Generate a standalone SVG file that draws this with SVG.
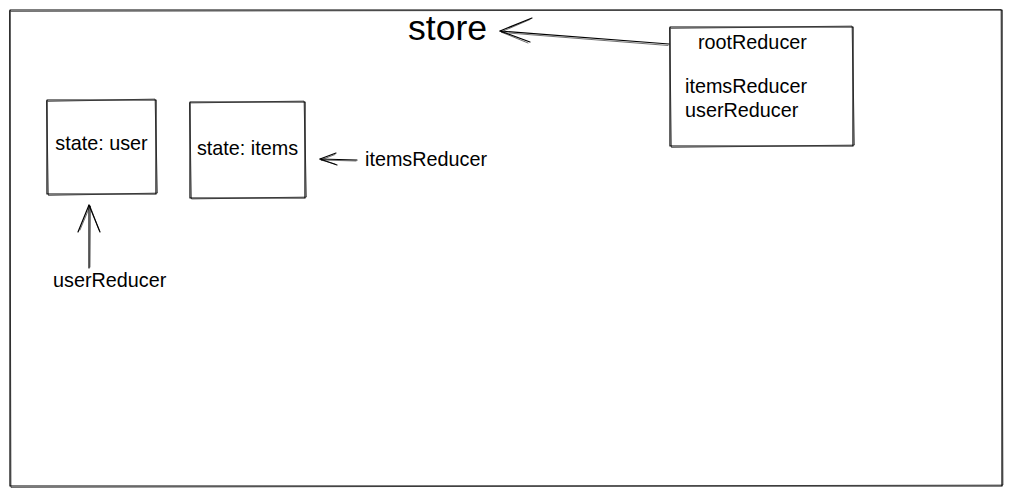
<svg xmlns="http://www.w3.org/2000/svg" width="1013" height="495" viewBox="0 0 1013 495">
<style>
.s{fill:none;stroke:#000;stroke-width:1.2;stroke-linecap:round;stroke-linejoin:round}
.s2{fill:none;stroke:#000;stroke-width:0.8;stroke-opacity:0.7;stroke-linecap:round}
.t{font-family:"Liberation Sans",Arial,sans-serif;fill:#000;font-size:19.8px}
</style>
<rect width="1013" height="495" fill="#fff"/>
<g id="store">
<path class="s" d="M10 10 L1002 10 L1002 486 L10 486 Z"/>
<path class="s2" d="M11 11.5 L1001 9.5 L1003 485 L11 487.5 L9.5 11"/>
<text class="t" x="408" y="40" style="font-size:35.6px">store</text>
</g>
<g id="rootReducer">
<path class="s" d="M670 27 L853 27 L853 146 L670 146 Z"/>
<path class="s2" d="M671 28.5 L852 26 L854.5 145 L671.5 147.5 L669.5 28"/>
<text class="t" x="698" y="48.5">rootReducer</text>
<text class="t" x="685" y="92.5">itemsReducer</text>
<text class="t" x="685" y="116.5">userReducer</text>
</g>
<g id="stateUser">
<path class="s" d="M47 100 L156 100 L156 194 L47 194 Z"/>
<path class="s2" d="M48 101.5 L155 99 L157.5 193 L48.5 195.5 L46.5 101"/>
<text class="t" x="101.5" y="150" text-anchor="middle">state: user</text>
</g>
<g id="stateItems">
<path class="s" d="M190 102 L305 102 L305 198 L190 198 Z"/>
<path class="s2" d="M191 103 L304 101 L306.5 197 L191.5 199 L189.5 103"/>
<text class="t" x="247.5" y="155" text-anchor="middle">state: items</text>
</g>
<g id="itemsReducerLabel">
<text class="t" x="365" y="166">itemsReducer</text>
</g>
<g id="userReducerLabel">
<text class="t" x="53" y="287">userReducer</text>
</g>
<g id="connectors">
<path class="s" d="M669 44 L500 31"/>
<path class="s2" d="M668 45.5 L502 32.5"/>
<path class="s" d="M532 18 L500 31 L530 42"/>
<path class="s2" d="M530 19.5 L501 32 L528 43"/>
<path class="s" d="M357 160 L320 159"/>
<path class="s2" d="M356 161 L321 160"/>
<path class="s" d="M336 153 L320 159 L337 165"/>
<path class="s2" d="M335 154.5 L321 160 L335 164"/>
<path class="s" d="M89 268 L89 205"/>
<path class="s2" d="M90 267 L90.5 206"/>
<path class="s" d="M78 232 L89 205 L100 232"/>
<path class="s2" d="M80 230 L90 206 L99 230"/>
</g>
</svg>
